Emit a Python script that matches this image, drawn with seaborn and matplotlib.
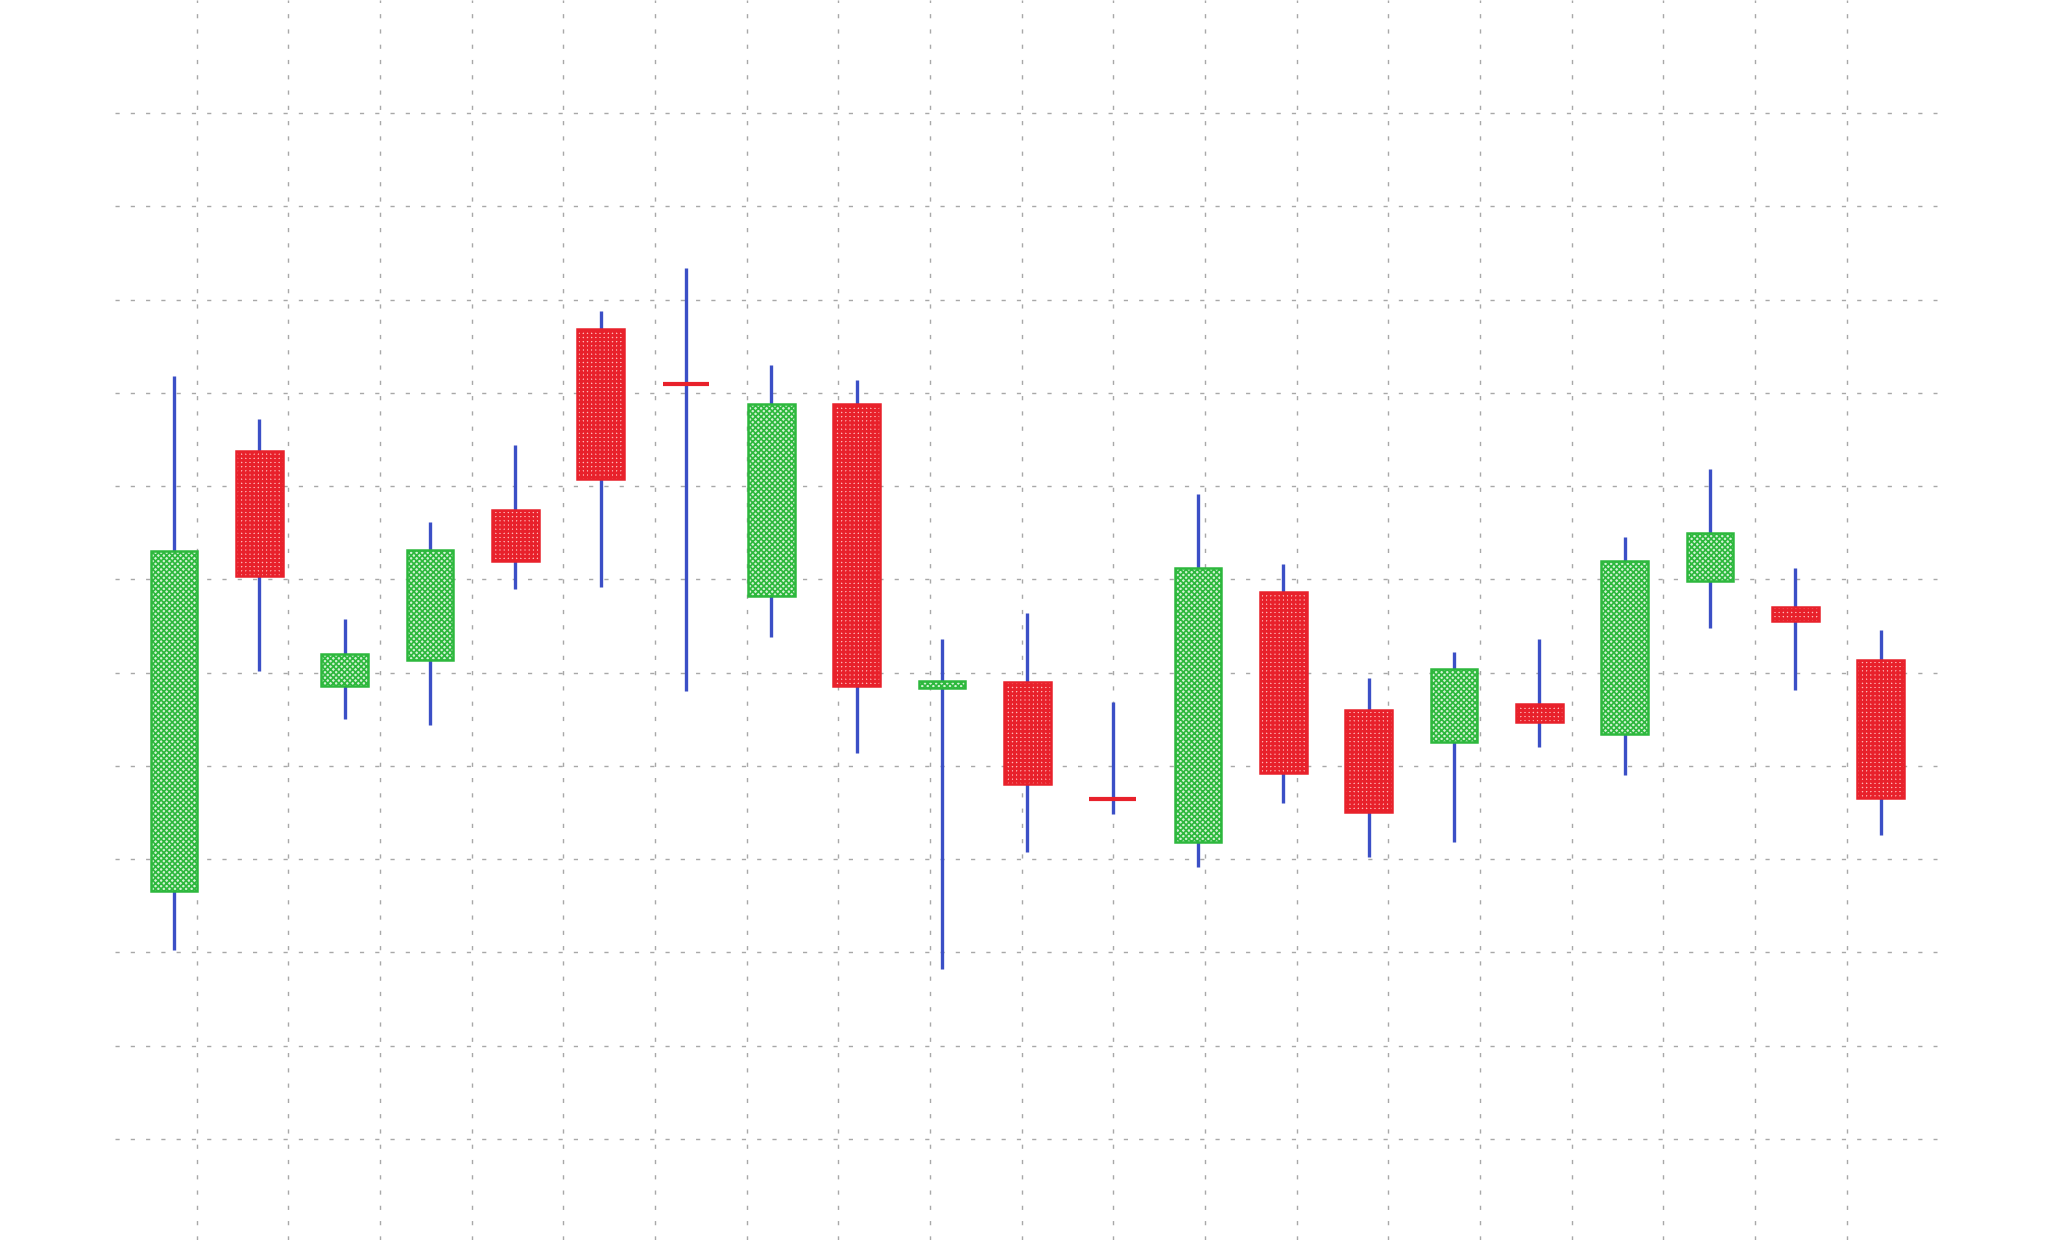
import numpy as np
import pandas as pd
import matplotlib
matplotlib.use("Agg")
import matplotlib.pyplot as plt
import seaborn as sns

# candle values
opens = [73.3, 96.9, 84.3, 85.7, 93.7, 103.4, 100.45, 89.1, 99.4, 84.2, 84.5,
         78.2, 75.9, 89.3, 83.0, 81.3, 83.3, 81.7, 89.9, 88.5, 85.7]
highs = [100.9, 98.6, 87.9, 93.1, 97.2, 104.4, 106.7, 101.5, 100.7, 86.8, 88.2,
         83.4, 94.6, 90.8, 84.7, 86.1, 86.8, 92.25, 95.9, 90.6, 87.3]
lows = [70.1, 85.1, 82.5, 82.2, 89.5, 89.6, 84.0, 86.9, 80.7, 69.1, 75.4,
        77.4, 74.6, 78.0, 75.1, 75.9, 81.0, 79.5, 87.4, 84.05, 76.3]
closes = [91.5, 90.2, 86.0, 91.6, 91.0, 95.4, 100.45, 99.4, 84.3, 84.55, 79.0,
          78.2, 90.6, 79.6, 77.5, 85.2, 82.35, 91.0, 92.5, 87.75, 78.25]
grid_levels = [60, 65, 70, 75, 80, 85, 90, 95, 100, 105, 110, 115]

df = pd.DataFrame({"open": opens, "high": highs, "low": lows, "close": closes})
df["x"] = np.arange(len(df))
df["bottom"] = df[["open", "close"]].min(axis=1)
df["height"] = (df["close"] - df["open"]).abs()

sns.set_theme(style="white")

RED = "#e8212b"
GREEN = "#2db83d"
GREEN_FACE = "#d2f2d4"
RED_FACE = "#ffb8b8"
BLUE = "#3b4fc6"
GRID = "#a8a8a8"
W = 0.55

fig = plt.figure(figsize=(20.48, 12.4), dpi=100)
ax = fig.add_axes([0, 0, 1, 1])
ax.set_axis_off()
ax.set_xlim(-2.039, 21.961)
ax.set_ylim(54.57, 121.07)

# grid
vx = 0.266 + 1.0742 * np.arange(19)
ax.vlines(vx, 54.57, 121.07, color=GRID, lw=1, linestyles=(0, (3, 8)), zorder=0)
ax.hlines(grid_levels, -0.691, 20.66, color=GRID, lw=1, linestyles=(0, (3, 8)), zorder=0)

# wicks
ax.vlines(df["x"], df["low"], df["high"], color=BLUE, lw=2.4, zorder=1)

up = df[df["close"] > df["open"]]
down = df[df["close"] < df["open"]]
doji = df[df["close"] == df["open"]]

with plt.rc_context({"hatch.linewidth": 1.2}):
    up_bars = ax.bar(up["x"], up["height"], bottom=up["bottom"], width=W,
                     facecolor=GREEN_FACE, edgecolor=GREEN, hatch="xxxxxx",
                     linewidth=1.8, zorder=2)
with plt.rc_context({"hatch.linewidth": 2.0}):
    down_bars = ax.bar(down["x"], down["height"], bottom=down["bottom"], width=W,
                       facecolor=RED_FACE, edgecolor=RED, hatch="++++",
                       linewidth=1.8, zorder=2)
for bars, hw in ((up_bars, 1.2), (down_bars, 2.0)):
    for b in bars:
        if hasattr(b, "set_hatch_linewidth"):
            b.set_hatch_linewidth(hw)
ax.hlines(doji["close"], doji["x"] - W / 2, doji["x"] + W / 2, color=RED, lw=3, zorder=3)

fig.savefig("out.png", dpi=100, facecolor="white")
